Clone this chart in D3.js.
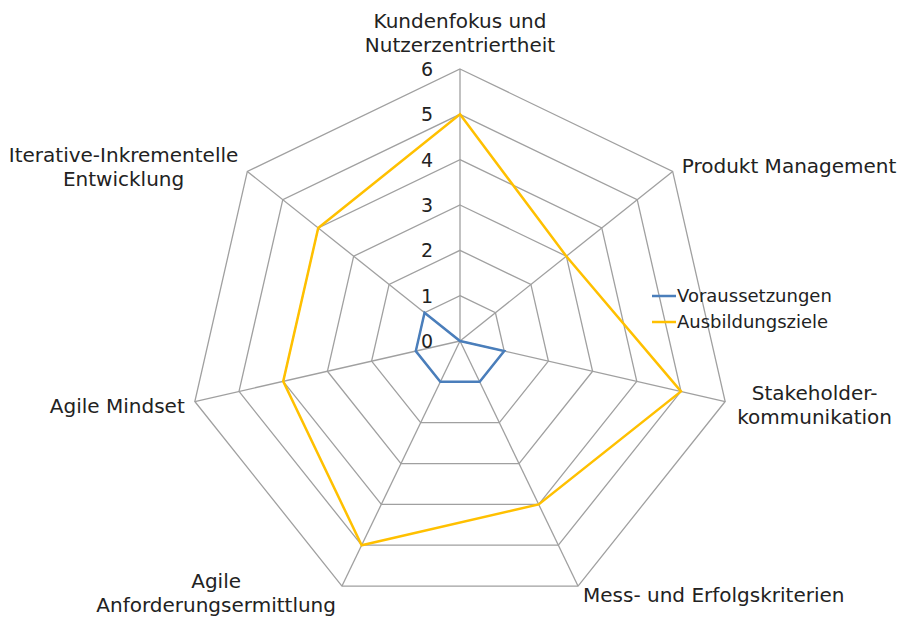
<!DOCTYPE html>
<html>
<head>
<meta charset="utf-8">
<script src="https://cdn.jsdelivr.net/npm/d3@7"></script>
<style>
  body { margin: 0; background: #fff; }
  text { font-family: "DejaVu Sans", sans-serif; fill: #222; }
</style>
</head>
<body>
<svg id="chart" width="899" height="618"></svg>
<script>
const categories = [
  ['Kundenfokus und', 'Nutzerzentriertheit'],
  ['Produkt Management'],
  ['Stakeholder-', 'kommunikation'],
  ['Mess- und Erfolgskriterien'],
  ['Agile', 'Anforderungsermittlung'],
  ['Agile Mindset'],
  ['Iterative-Inkrementelle', 'Entwicklung']
];
const voraussetzungen = [0, 0, 1, 1, 1, 1, 1];
const ausbildungsziele = [5, 3, 5, 4, 5, 4, 4];
const ticks = [0, 1, 2, 3, 4, 5, 6];
const seriesNames = ['Voraussetzungen', 'Ausbildungsziele'];

// label placement relative to outer vertex: [anchor, dx, dy of block center]
const labelLayout = [
  ['middle', 0, -36],
  ['start', 9, -6],
  ['start', 12, 3],
  ['start', 5, 9],
  ['end', -6, 7],
  ['end', -10, 4],
  ['end', -9, -5]
];

const svg = d3.select('#chart');
const cx = 460, cy = 341, R = 272;
const colors = ['#4a7ebb', '#ffc000'];

const r = d3.scaleLinear().domain([0, 6]).range([0, R]);
const angle = d3.scaleLinear().domain([0, categories.length]).range([0, 2 * Math.PI]);

const point = (i, v) => [cx + r(v) * Math.sin(angle(i)), cy - r(v) * Math.cos(angle(i))];

const g = svg.append('g');

// grid rings
ticks.slice(1).forEach((t) => {
  g.append('path')
    .attr('d', d3.line()(categories.map((c, i) => point(i, t))) + 'Z')
    .attr('fill', 'none')
    .attr('stroke', '#a0a0a0')
    .attr('stroke-width', 1.3);
});

// spokes
categories.forEach((c, i) => {
  const p = point(i, 6);
  g.append('line')
    .attr('x1', cx).attr('y1', cy)
    .attr('x2', p[0]).attr('y2', p[1])
    .attr('stroke', '#a0a0a0')
    .attr('stroke-width', 1.3);
});

// tick labels
g.selectAll('.tick')
  .data(ticks)
  .join('text')
  .attr('class', 'tick')
  .attr('x', cx - 33)
  .attr('y', (d) => cy - r(d))
  .attr('dy', '0.36em')
  .attr('text-anchor', 'middle')
  .style('font-size', '19px')
  .text((d) => d);

// series
[voraussetzungen, ausbildungsziele].forEach((vals, s) => {
  g.append('path')
    .attr('d', d3.line()(vals.map((v, i) => point(i, v))) + 'Z')
    .attr('fill', 'none')
    .attr('stroke', colors[s])
    .attr('stroke-width', 2.5)
    .attr('stroke-linejoin', 'miter');
});

// category labels
categories.forEach((lines, i) => {
  const p = point(i, 6);
  const [anchor, dx, dy] = labelLayout[i];
  const lh = 24;
  const t = g.append('text')
    .style('font-size', '20px')
    .attr('text-anchor', 'middle');
  lines.forEach((ln, k) => {
    t.append('tspan')
      .attr('x', 0)
      .attr('y', (k - (lines.length - 1) / 2) * lh)
      .attr('dy', '0.36em')
      .text(ln);
  });
  const w = t.node().getBBox().width;
  const x = anchor === 'start' ? p[0] + dx + w / 2 : anchor === 'end' ? p[0] + dx - w / 2 : p[0] + dx;
  t.attr('transform', `translate(${x},${p[1] + dy})`);
});

// legend
const lg = svg.append('g').attr('transform', 'translate(652,296)');
seriesNames.forEach((name, s) => {
  const row = lg.append('g').attr('transform', `translate(0,${s * 26})`);
  row.append('line')
    .attr('x1', 0).attr('x2', 24)
    .attr('stroke', colors[s])
    .attr('stroke-width', 2.5);
  row.append('text')
    .attr('x', 25)
    .attr('dy', '0.36em')
    .style('font-size', '18px')
    .text(name);
});
</script>
</body>
</html>
